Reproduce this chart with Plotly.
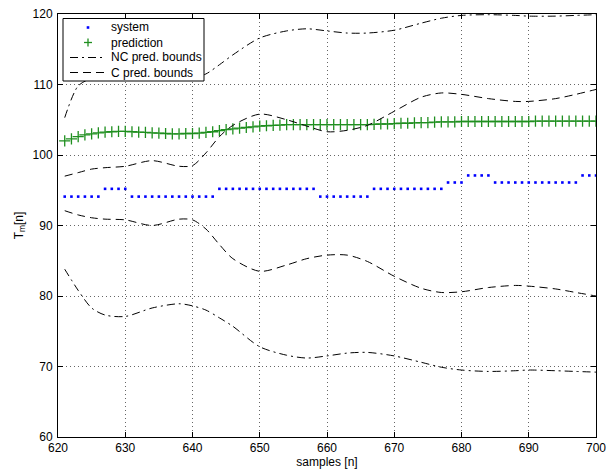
import plotly.graph_objects as go

samples = list(range(621, 701))

system = [
    94.1, 94.1, 94.1, 94.1, 94.1, 94.1,
    95.2, 95.2, 95.2, 95.2,
    94.1, 94.1, 94.1, 94.1, 94.1, 94.1, 94.1, 94.1, 94.1, 94.1, 94.1, 94.1, 94.1,
    95.2, 95.2, 95.2, 95.2, 95.2, 95.2, 95.2, 95.2, 95.2, 95.2, 95.2, 95.2, 95.2, 95.2, 95.2,
    94.1, 94.1, 94.1, 94.1, 94.1, 94.1, 94.1, 94.1,
    95.2, 95.2, 95.2, 95.2, 95.2, 95.2, 95.2, 95.2, 95.2, 95.2, 95.2,
    96.1, 96.1, 96.1,
    97.1, 97.1, 97.1, 97.1,
    96.1, 96.1, 96.1, 96.1, 96.1, 96.1, 96.1, 96.1, 96.1, 96.1, 96.1, 96.1, 96.1,
    97.1, 97.1, 97.1,
]

prediction = [
    102.0, 102.3, 102.6, 102.85, 103.0, 103.15, 103.25, 103.3, 103.35, 103.35,
    103.3, 103.25, 103.2, 103.15, 103.1, 103.05, 103.0, 103.0, 103.05, 103.05,
    103.1, 103.2, 103.3, 103.45, 103.6, 103.7, 103.8, 103.9, 104.0, 104.1,
    104.15, 104.2, 104.25, 104.3, 104.3, 104.3, 104.3, 104.3, 104.3, 104.3,
    104.3, 104.3, 104.3, 104.3, 104.3, 104.3, 104.35, 104.4, 104.4, 104.45,
    104.5, 104.5, 104.55, 104.6, 104.6, 104.65, 104.7, 104.7, 104.7, 104.75,
    104.75, 104.75, 104.75, 104.75, 104.75, 104.75, 104.75, 104.75, 104.75, 104.75,
    104.8, 104.8, 104.8, 104.8, 104.8, 104.8, 104.8, 104.8, 104.8, 104.8,
]

bound_x = [621, 623, 625, 627, 630, 634, 638, 640, 642, 644, 646, 650, 654, 657,
           660, 663, 666, 670, 674, 677, 680, 684, 688, 690, 694, 697, 700]

nc_upper = [105.3, 109.8, 110.9, 111.4, 111.6, 111.2, 110.9, 110.9, 111.5, 112.8, 114.2,
            116.6, 117.6, 117.9, 117.6, 117.3, 117.3, 117.7, 118.7, 119.4, 119.8,
            119.9, 119.8, 119.7, 119.7, 119.8, 119.9]
c_upper = [97.0, 97.5, 98.0, 98.2, 98.4, 99.2, 98.4, 98.5, 100.3, 102.6, 104.2,
           105.8, 105.0, 104.1, 103.3, 103.5, 104.2, 106.2, 108.2, 108.8, 108.6,
           108.0, 107.6, 107.6, 108.0, 108.6, 109.3]
c_lower = [92.1, 91.5, 91.1, 90.9, 90.8, 90.0, 90.9, 90.8, 89.5, 87.3, 85.3,
           83.5, 84.4, 85.3, 85.8, 85.8, 84.9, 82.8, 81.1, 80.5, 80.6,
           81.2, 81.5, 81.4, 81.0, 80.5, 80.0]
nc_lower = [83.8, 80.8, 78.3, 77.3, 77.1, 78.3, 78.9, 78.6, 78.0, 76.9, 75.7,
            72.8, 71.6, 71.2, 71.5, 71.9, 72.0, 71.5, 70.6, 69.9, 69.5,
            69.3, 69.4, 69.5, 69.4, 69.3, 69.2]

x_ticks = [620, 630, 640, 650, 660, 670, 680, 690, 700]
y_ticks = [60, 70, 80, 90, 100, 110, 120]

legend_labels = ["system", "prediction", "NC pred. bounds", "C pred. bounds"]

FONT = "Liberation Sans, Arial, Helvetica, sans-serif"
DASHDOT = "8px,4px,2px,4px"
DASH = "8px,5px"
BLUE = "#0000ff"
GREEN = "#1f8f1f"

W, H = 613, 472
ML, MR, MT, MB = 58, 17, 14, 35
PW, PH = W - ML - MR, H - MT - MB


def px(x):
    return (x - ML) / PW


def py(y):
    return 1 - (y - MT) / PH


fig = go.Figure()

fig.add_trace(go.Scatter(
    x=samples, y=system, mode="markers", name=legend_labels[0], showlegend=False,
    marker=dict(symbol="square", size=2.6, color=BLUE, line=dict(width=0)),
))
fig.add_trace(go.Scatter(
    x=samples, y=prediction, mode="markers", name=legend_labels[1], showlegend=False,
    marker=dict(symbol="cross-thin", size=8, color=GREEN,
                line=dict(color=GREEN, width=1.3)),
))
for vals, dash, nm in [(nc_upper, DASHDOT, legend_labels[2]), (c_upper, DASH, legend_labels[3]),
                       (c_lower, DASH, legend_labels[3]), (nc_lower, DASHDOT, legend_labels[2])]:
    fig.add_trace(go.Scatter(
        x=bound_x, y=vals, mode="lines", name=nm, showlegend=False,
        line=dict(color="black", width=1, dash=dash, shape="spline", smoothing=0.8),
    ))

# custom legend (MATLAB-style compact box)
shapes = [dict(type="rect", xref="paper", yref="paper",
               x0=px(63), x1=px(204), y0=py(81), y1=py(18.5),
               fillcolor="white", line=dict(color="black", width=1), layer="above")]
rows = [27.5, 42.5, 57.5, 72.5]
gx = 88
shapes.append(dict(type="rect", xref="paper", yref="paper",
                   x0=px(gx - 1.3), x1=px(gx + 1.3), y0=py(rows[0] + 1.3), y1=py(rows[0] - 1.3),
                   fillcolor=BLUE, line=dict(width=0), layer="above"))
shapes.append(dict(type="line", xref="paper", yref="paper",
                   x0=px(gx - 4), x1=px(gx + 4), y0=py(rows[1]), y1=py(rows[1]),
                   line=dict(color=GREEN, width=1.3), layer="above"))
shapes.append(dict(type="line", xref="paper", yref="paper",
                   x0=px(gx), x1=px(gx), y0=py(rows[1] - 4), y1=py(rows[1] + 4),
                   line=dict(color=GREEN, width=1.3), layer="above"))
for r, dash in [(rows[2], DASHDOT), (rows[3], DASH)]:
    shapes.append(dict(type="line", xref="paper", yref="paper",
                       x0=px(70), x1=px(104), y0=py(r), y1=py(r),
                       line=dict(color="black", width=1, dash=dash), layer="above"))

annotations = []
for lab, r in zip(legend_labels, rows):
    annotations.append(dict(text=lab, xref="paper", yref="paper",
                            x=px(109), y=py(r), xanchor="left", yanchor="middle",
                            showarrow=False, font=dict(family=FONT, size=12, color="black")))

axis_common = dict(
    showline=True, linecolor="black", linewidth=1, mirror="ticks",
    ticks="inside", ticklen=5, tickcolor="black", automargin=False,
    showgrid=True, gridcolor="#666666", griddash="1px,3px", gridwidth=1,
    zeroline=False, tickfont=dict(family=FONT, size=12, color="black"),
)

fig.update_layout(
    width=W, height=H,
    margin=dict(l=ML, r=MR, t=MT, b=MB),
    paper_bgcolor="white", plot_bgcolor="white",
    font=dict(family=FONT, size=12, color="black"),
    showlegend=False,
    shapes=shapes,
    annotations=annotations,
    xaxis=dict(
        range=[620, 700], tickvals=x_ticks, ticktext=[str(v) for v in x_ticks],
        ticklabelstandoff=0,
        title=dict(text="samples [n]", standoff=1, font=dict(family=FONT, size=12)),
        **axis_common,
    ),
    yaxis=dict(
        range=[60, 120], tickvals=y_ticks, ticktext=[str(v) for v in y_ticks],
        ticklabelstandoff=2,
        title=dict(text="T<sub>m</sub>[n]", standoff=6, font=dict(family=FONT, size=12)),
        **axis_common,
    ),
)

fig.write_html("out.html")
